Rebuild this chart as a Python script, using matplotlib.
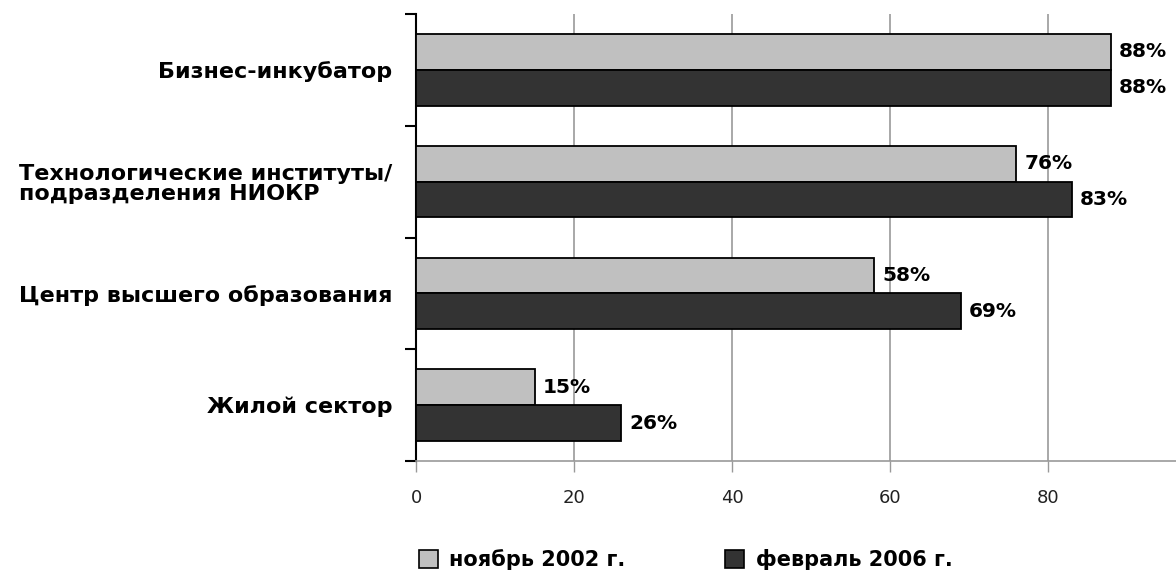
import matplotlib.pyplot as plt
from matplotlib.patches import Patch
import numpy as np

categories = ['Бизнес-инкубатор',
              'Технологические институты/\nподразделения НИОКР',
              'Центр высшего образования',
              'Жилой сектор']
nov_2002 = [88, 76, 58, 15]
feb_2006 = [88, 83, 69, 26]
series_names = ['ноябрь 2002 г.', 'февраль 2006 г.']
xticks = [0, 20, 40, 60, 80]

light = '#c0c0c0'
dark = '#333333'
grid_c = '#999999'

fig = plt.figure(figsize=(11.76, 5.86), dpi=100)
ax = fig.add_axes([416/1176, 1-461/586, 1-416/1176, (461-14)/586])

y = np.arange(len(categories))
h = 0.32
ax.barh(y - h/2, nov_2002, height=h, color=light, edgecolor='black', linewidth=1.3, zorder=3)
ax.barh(y + h/2, feb_2006, height=h, color=dark, edgecolor='black', linewidth=1.3, zorder=3)

# подписи значений
for i in range(len(categories)):
    ax.text(nov_2002[i] + 1.0, y[i] - h/2, f'{nov_2002[i]}%', ha='left', va='center',
            fontsize=14.5, fontweight='bold', family='DejaVu Sans', zorder=4)
    ax.text(feb_2006[i] + 1.0, y[i] + h/2, f'{feb_2006[i]}%', ha='left', va='center',
            fontsize=14.5, fontweight='bold', family='DejaVu Sans', zorder=4)

ax.set_xlim(0, 96.2)
ax.set_ylim(3.5, -0.5)

ax.set_xticks(xticks)
ax.set_xticklabels([str(t) for t in xticks], fontsize=13, color='#222222')
ax.tick_params(axis='x', direction='out', length=8, width=1, color=grid_c, pad=12)
for t in xticks[1:]:
    ax.axvline(t, color=grid_c, linewidth=1.2, zorder=1)

ax.set_yticks(np.arange(-0.5, len(categories), 1.0))
ax.set_yticklabels([])
ax.tick_params(axis='y', direction='out', length=8, width=1.5, color='black')
ax.set_yticks(y, minor=True)
ax.set_yticklabels(categories, minor=True, fontsize=16, fontweight='bold', family='DejaVu Sans')
ax.tick_params(axis='y', which='minor', length=0, pad=17)
for lab in ax.get_yticklabels(minor=True):
    lab.set_multialignment('left')
    lab.set_linespacing(1.0)

ax.spines['top'].set_visible(False)
ax.spines['right'].set_visible(False)
ax.spines['left'].set_linewidth(1.5)
ax.spines['bottom'].set_color(grid_c)
ax.spines['bottom'].set_linewidth(1.2)

handles = [Patch(facecolor=light, edgecolor='black', linewidth=1.2),
           Patch(facecolor=dark, edgecolor='black', linewidth=1.2)]
fig.legend(handles, series_names, loc='center', bbox_to_anchor=(0.583, 0.045), ncol=2,
           frameon=False, prop={'family': 'DejaVu Sans', 'weight': 'bold', 'size': 15},
           handlelength=0.9, handleheight=0.9, handletextpad=0.55, columnspacing=4.8)

plt.savefig('out.png', dpi=100)
